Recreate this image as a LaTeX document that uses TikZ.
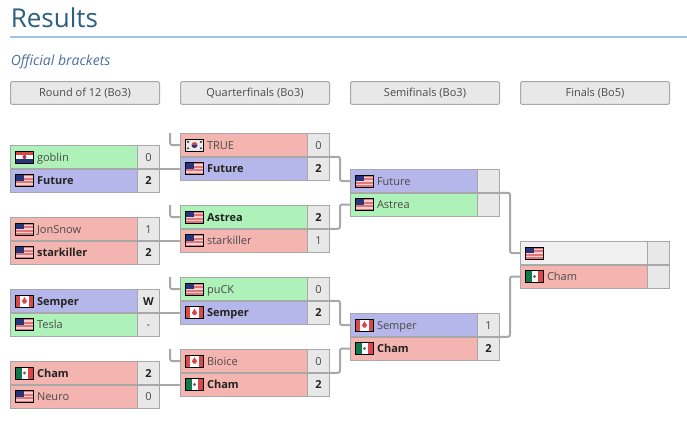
\documentclass[tikz,border=0pt]{standalone}
\usepackage{fontspec}
\setmainfont{Open Sans}
\usetikzlibrary{arrows.meta, calc}

\definecolor{winblue}{HTML}{B5B7EA}
\definecolor{wingreen}{HTML}{AEF2BA}
\definecolor{losered}{HTML}{F4B4B0}
\definecolor{cellgrey}{HTML}{E8E8E8}
\definecolor{emptygrey}{HTML}{F0F0F0}
\definecolor{edgegrey}{HTML}{A8A8A8}
\definecolor{txtdark}{HTML}{222222}
\definecolor{txtgrey}{HTML}{4A4A4A}
\definecolor{titleblue}{HTML}{2A5F7F}
\definecolor{subblue}{HTML}{4B6E9E}
\definecolor{ruleblue}{HTML}{9DC3E0}
\definecolor{flagred}{HTML}{D84848}
\definecolor{flagnavy}{HTML}{27357F}
\definecolor{flaggreen}{HTML}{12784A}

\newcommand{\win}{\bfseries\color{txtdark}}
\newcommand{\lose}{\mdseries\color{txtgrey}}

% --- flags, drawn at the left end of a name cell ---
\newcommand{\flagframe}{\draw[black,line width=0.75pt] (5,-6) rectangle (23,6);}
\newcommand{\flagus}[1]{\begin{scope}[shift={(#1.west)}]
    \fill[flagred!75!white] (5,-6) rectangle (23,6);
    \foreach \s in {-3.4,0,3.4} \fill[flagred!25!white] (5,\s-0.8) rectangle (23,\s+0.8);
    \fill[flagnavy] (5,-6) rectangle (13,0);
    \flagframe
  \end{scope}}
\newcommand{\flagca}[1]{\begin{scope}[shift={(#1.west)}]
    \fill[white] (5,-6) rectangle (23,6);
    \fill[flagred] (5,-6) rectangle (9.5,6);
    \fill[flagred] (18.5,-6) rectangle (23,6);
    \fill[flagred] (14,-3.8) -- (16.6,0.2) -- (15,2.6) -- (13,2.6) -- (11.4,0.2) -- cycle;
    \flagframe
  \end{scope}}
\newcommand{\flagmx}[1]{\begin{scope}[shift={(#1.west)}]
    \fill[white] (5,-6) rectangle (23,6);
    \fill[flaggreen] (5,-6) rectangle (11,6);
    \fill[flagred] (17,-6) rectangle (23,6);
    \fill[gray!80!black] (14,0) circle (1.7);
    \flagframe
  \end{scope}}
\newcommand{\flagkr}[1]{\begin{scope}[shift={(#1.west)}]
    \fill[white!92!black] (5,-6) rectangle (23,6);
    \fill[flagred] (14,0) ++(-3,0) arc[start angle=180,end angle=360,radius=3] -- cycle;
    \fill[flagnavy] (14,0) ++(3,0) arc[start angle=0,end angle=180,radius=3] -- cycle;
    \foreach \a/\b in {7.5/-3.2,20.5/-3.2,7.5/3.2,20.5/3.2} \fill[black!75] (\a,\b) circle (1.2);
    \flagframe
  \end{scope}}
\newcommand{\flaghr}[1]{\begin{scope}[shift={(#1.west)}]
    \fill[flagred] (5,-6) rectangle (23,-2);
    \fill[white] (5,-2) rectangle (23,2);
    \fill[flagnavy] (5,2) rectangle (23,6);
    \fill[flagred!80!black] (14,0) circle (2);
    \flagframe
  \end{scope}}

\tikzset{
  namebox/.style={draw=edgegrey, line width=0.75pt, anchor=north west, outer sep=0pt,
    inner xsep=19.9pt, inner ysep=0pt, text width=55.45pt, align=left,
    text height=7.7pt, text depth=1.6pt, minimum height=17.6pt, font=\fontsize{8.25}{10}\selectfont},
  scorebox/.style={draw=edgegrey, line width=0.75pt, anchor=north west, outer sep=0pt, fill=cellgrey,
    inner sep=0pt, minimum width=16.5pt, text height=7.7pt, text depth=1.6pt,
    minimum height=17.6pt, font=\fontsize{8.25}{10}\selectfont},
  headbox/.style={draw=edgegrey, line width=0.75pt, fill=cellgrey, rounded corners=1pt, inner sep=0pt,
    outer sep=0pt, minimum width=111.75pt, minimum height=17pt, text=txtgrey, font=\fontsize{8.25}{10}\selectfont},
  link/.style={draw=edgegrey, line width=1.5pt, rounded corners=1.5pt},
  splitline/.style={draw=edgegrey, line width=1.5pt}
}

\begin{document}
\begin{tikzpicture}[x=0.75pt, y=-0.75pt]
  \useasboundingbox (0,0) rectangle (687,440);
  % --- heading ---
  \node[anchor=base west, inner sep=0pt, text=titleblue, font=\fontsize{19.5}{22}\selectfont] (title) at (10.5,27) {Results};
  \draw[ruleblue, line width=1.5pt] (10,37) -- (687,37);
  \node[anchor=base west, inner sep=0pt, text=subblue, font=\fontsize{10.5}{12}\selectfont\itshape] (sub) at (10.5,65) {Official brackets};
  % --- round headers ---
  \foreach \id/\xx/\lab in {h1/85/{Round of 12 (Bo3)},h2/255/{Quarterfinals (Bo3)},h3/425/{Semifinals (Bo3)},h4/595/{Finals (Bo5)}}
    \node[headbox] (\id) at (\xx,93) {\lab};
  % --- bracket rows ---
  \foreach \id/\xx/\yy/\col/\fl/\fnt/\nm/\pts in {
      r1a/10.5/145.3/wingreen/hr/\lose/goblin/0,
      r1b/10.5/168.8/winblue/us/\win/Future/2,
      r2a/10.5/217.3/losered/us/\lose/JonSnow/1,
      r2b/10.5/240.8/losered/us/\win/starkiller/2,
      r3a/10.5/289.3/winblue/ca/\win/Semper/W,
      r3b/10.5/312.8/wingreen/us/\lose/Tesla/-,
      r4a/10.5/361.3/losered/mx/\win/Cham/2,
      r4b/10.5/384.8/losered/us/\lose/Neuro/0,
      q1a/180.5/133.3/losered/kr/\lose/TRUE/0,
      q1b/180.5/156.8/winblue/us/\win/Future/2,
      q2a/180.5/205.3/wingreen/us/\win/Astrea/2,
      q2b/180.5/228.8/losered/us/\lose/starkiller/1,
      q3a/180.5/277.3/wingreen/us/\lose/puCK/0,
      q3b/180.5/300.8/winblue/ca/\win/Semper/2,
      q4a/180.5/349.3/losered/ca/\lose/Bioice/0,
      q4b/180.5/372.8/losered/mx/\win/Cham/2,
      s1a/350.5/169.3/winblue/us/\lose/Future/{},
      s1b/350.5/192.8/wingreen/us/\lose/Astrea/{},
      s2a/350.5/313.3/winblue/ca/\lose/Semper/1,
      s2b/350.5/336.8/losered/mx/\win/Cham/2,
      f1a/520.5/241.3/emptygrey/us/\lose/{}/{},
      f1b/520.5/264.8/losered/mx/\lose/Cham/{}}{
    \node[namebox, fill=\col] (\id) at (\xx,\yy) {\fnt \nm};
    \node[scorebox] (\id-s) at (\id.north east) {\fnt \pts};
    \csname flag\fl\endcsname{\id}
  }
  % --- lines between the two rows of a match ---
  \foreach \id in {r1a,r2a,r3a,r4a,q1a,q2a,q3a,q4a,s1a,s2a,f1a}
    \draw[splitline] (\id.south west) -- (\id-s.south east);
  % --- connectors ---
  \foreach \a/\b in {r1a/q1b,r2a/q2b,r3a/q3b,r4a/q4b}
    \draw[link] (\a-s.south east) -- (\b.west |- \a-s.south east);
  \foreach \a/\b in {q1a/s1a,q2a/s1b,q3a/s2a,q4a/s2b}
    \draw[link] (\a-s.south east) -- ++(10.5,0) |- (\b.west);
  \foreach \a/\b in {s1a/f1a,s2a/f1b}
    \draw[link] (\a-s.south east) -- ++(10.5,0) |- (\b.west);
  \foreach \a/\yy in {q1a/133,q2a/205,q3a/277,q4a/349}{
    \coordinate (\a-t) at (170,\yy);
    \draw[link] (\a-t) |- (\a.west);
  }
\end{tikzpicture}
\end{document}
